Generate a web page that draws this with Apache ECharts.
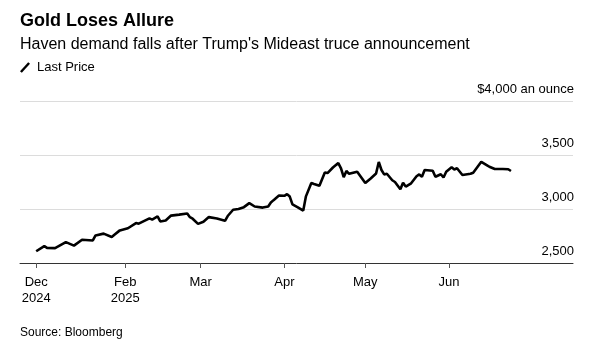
<!DOCTYPE html>
<html lang="en">

<head>
    <meta charset="utf-8" />
    <title>Gold Loses Allure</title>
    <script src="https://cdn.jsdelivr.net/npm/echarts@6.0.0/dist/echarts.min.js"></script>
    <style>
        html, body { margin: 0; padding: 0; background: #fff; }
        #chart { width: 612px; height: 346px; }
    </style>
</head>

<body>
    <div id="chart"></div>
    <script type="text/javascript">
        // gold, last price (USD/oz)
        var dates = [
            '2024-12-30', '2025-01-02', '2025-01-03', '2025-01-06', '2025-01-10', '2025-01-13',
            '2025-01-16', '2025-01-20', '2025-01-21', '2025-01-24', '2025-01-27', '2025-01-28',
            '2025-01-30', '2025-02-02', '2025-02-05', '2025-02-06', '2025-02-10', '2025-02-11',
            '2025-02-13', '2025-02-14', '2025-02-16', '2025-02-18', '2025-02-21', '2025-02-24',
            '2025-02-25', '2025-02-26', '2025-02-28', '2025-03-02', '2025-03-04', '2025-03-07',
            '2025-03-10', '2025-03-11', '2025-03-13', '2025-03-15', '2025-03-17', '2025-03-19',
            '2025-03-21', '2025-03-24', '2025-03-26', '2025-03-27', '2025-03-28', '2025-03-30',
            '2025-04-01', '2025-04-02', '2025-04-03', '2025-04-04', '2025-04-06', '2025-04-08',
            '2025-04-09', '2025-04-11', '2025-04-12', '2025-04-14', '2025-04-16', '2025-04-17',
            '2025-04-19', '2025-04-21', '2025-04-22', '2025-04-23', '2025-04-24', '2025-04-25',
            '2025-04-28', '2025-05-01', '2025-05-03', '2025-05-05', '2025-05-06', '2025-05-07',
            '2025-05-08', '2025-05-09', '2025-05-11', '2025-05-12', '2025-05-14', '2025-05-15',
            '2025-05-16', '2025-05-18', '2025-05-20', '2025-05-21', '2025-05-22', '2025-05-23',
            '2025-05-26', '2025-05-27', '2025-05-29', '2025-05-30', '2025-05-31', '2025-06-02',
            '2025-06-03', '2025-06-04', '2025-06-06', '2025-06-09', '2025-06-10', '2025-06-13',
            '2025-06-15', '2025-06-16', '2025-06-18', '2025-06-21', '2025-06-23', '2025-06-24'
        ];
        var prices = [
            2609, 2657, 2640, 2638, 2693, 2661,
            2715, 2709, 2755, 2772, 2741, 2762,
            2802, 2822, 2870, 2864, 2913, 2902,
            2931, 2885, 2894, 2939, 2948, 2958,
            2924, 2910, 2862, 2882, 2925, 2912,
            2891, 2935, 2993, 3000, 3017, 3054,
            3023, 3013, 3023, 3060, 3082, 3124,
            3122, 3138, 3115, 3043, 3016, 2985,
            3117, 3241, 3232, 3215, 3338, 3333,
            3384, 3425, 3377, 3294, 3352, 3326,
            3345, 3241, 3283, 3329, 3435, 3361,
            3320, 3326, 3266, 3250, 3183, 3244,
            3207, 3238, 3303, 3320, 3299, 3361,
            3354, 3299, 3322, 3292, 3345, 3386,
            3366, 3377, 3315, 3326, 3336, 3437,
            3407, 3391, 3370, 3370, 3368, 3352
        ];
        var tickDates = ['2024-12-30', '2025-02-01', '2025-03-01', '2025-04-01', '2025-05-01', '2025-06-01'];
        var tickLabels = ['Dec\n2024', 'Feb\n2025', 'Mar', 'Apr', 'May', 'Jun'];
        var yTicks = [2500, 3000, 3500, 4000];

        function toTime(s) {
            var p = s.split('-');
            return Date.UTC(+p[0], +p[1] - 1, +p[2]);
        }

        var data = dates.map(function (d, i) {
            return [toTime(d), prices[i]];
        });
        var tickValues = tickDates.map(toTime);

        var font = "'Liberation Sans', Arial, sans-serif";
        var chart = echarts.init(document.getElementById('chart'));

        var option = {
            animation: false,
            textStyle: { fontFamily: font, color: '#000' },
            title: [
                {
                    text: 'Gold Loses Allure',
                    left: 20,
                    top: 12,
                    padding: 0,
                    textStyle: { fontFamily: font, fontSize: 18, fontWeight: 'bold', color: '#000' }
                },
                {
                    text: "Haven demand falls after Trump's Mideast truce announcement",
                    left: 20,
                    top: 37,
                    padding: 0,
                    textStyle: { fontFamily: font, fontSize: 16, fontWeight: 'normal', color: '#000' }
                },
                {
                    text: 'Source: Bloomberg',
                    left: 20,
                    top: 327,
                    padding: 0,
                    textStyle: { fontFamily: font, fontSize: 12, fontWeight: 'normal', color: '#000' }
                }
            ],
            legend: {
                data: ['Last Price'],
                left: 20,
                top: 61,
                padding: 0,
                itemWidth: 10,
                itemHeight: 11,
                icon: 'path://M0,9 L8.2,0 L10,1.6 L1.8,10.6 Z',
                textStyle: { fontFamily: font, fontSize: 13, color: '#000', padding: [0, 0, 0, 2] }
            },
            grid: {
                left: 20,
                right: 39,
                top: 101,
                bottom: 83,
                containLabel: false
            },
            // time as a plain value axis (ms), so the month ticks can be placed by hand
            xAxis: {
                type: 'value',
                min: toTime('2024-12-24'),
                max: toTime('2025-07-17'),
                splitLine: { show: false },
                axisLine: { lineStyle: { color: '#333', width: 1 } },
                axisTick: {
                    customValues: tickValues,
                    length: 5,
                    lineStyle: { color: '#555' }
                },
                axisLabel: {
                    customValues: tickValues,
                    margin: 11,
                    fontSize: 13,
                    lineHeight: 16,
                    color: '#000',
                    fontFamily: font,
                    align: 'center',
                    formatter: function (v) {
                        var i = tickValues.indexOf(v);
                        return i >= 0 ? tickLabels[i] : '';
                    }
                }
            },
            yAxis: {
                type: 'value',
                position: 'right',
                min: yTicks[0],
                max: yTicks[yTicks.length - 1],
                interval: 500,
                axisLine: { show: false },
                axisTick: { show: false },
                splitLine: { lineStyle: { color: '#dcdcdc', width: 1 } },
                axisLabel: {
                    inside: true,
                    margin: -1,
                    align: 'right',
                    verticalAlign: 'bottom',
                    padding: [0, 0, 5, 0],
                    fontSize: 13,
                    color: '#000',
                    fontFamily: font,
                    formatter: function (v) {
                        var s = v.toLocaleString('en-US');
                        return v === 4000 ? '$' + s + ' an ounce' : s;
                    }
                }
            },
            series: [
                {
                    name: 'Last Price',
                    type: 'line',
                    data: data,
                    showSymbol: false,
                    symbol: 'none',
                    itemStyle: { color: '#000' },
                    lineStyle: { color: '#000', width: 2.6 }
                }
            ]
        };

        chart.setOption(option);
    </script>
</body>

</html>
